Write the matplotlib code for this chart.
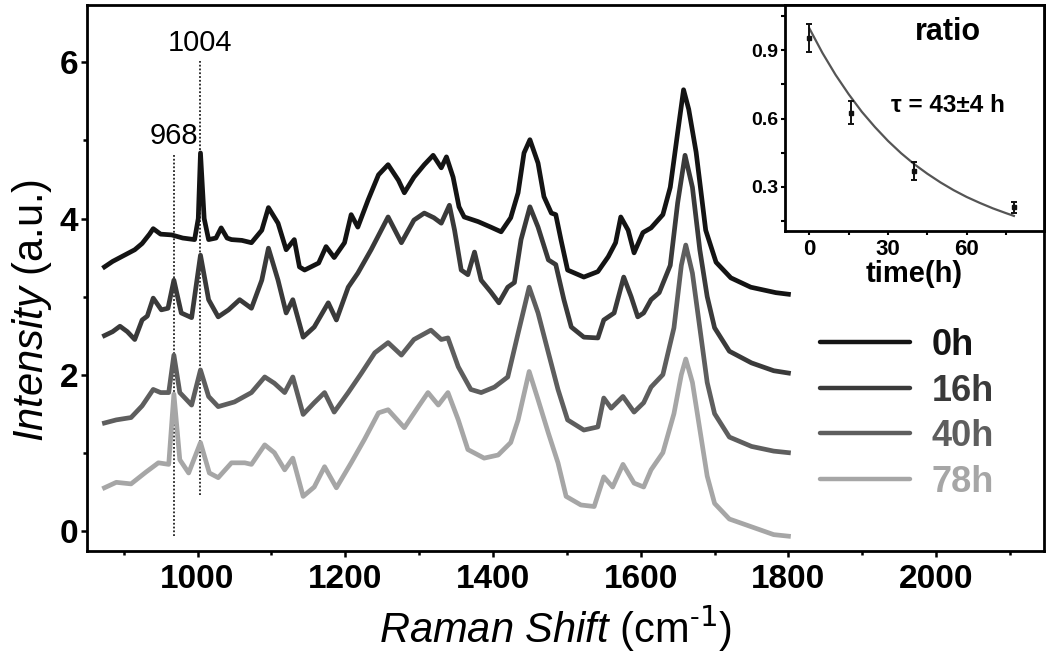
import matplotlib
matplotlib.use("Agg")
import matplotlib.pyplot as plt
from matplotlib.ticker import MultipleLocator

plt.rcParams["font.family"] = ["Liberation Sans", "DejaVu Sans"]
plt.rcParams["mathtext.fontset"] = "custom"
plt.rcParams["mathtext.rm"] = "Liberation Sans"
plt.rcParams["mathtext.it"] = "Liberation Sans:italic"
plt.rcParams["mathtext.bf"] = "Liberation Sans:bold"

# ---- spectra (Raman shift in cm-1, intensity in a.u., offset already applied)
wn_0h = [874, 885, 895, 905, 915, 925, 935, 940, 950, 965, 980, 996, 1001, 1004, 1009,
         1015, 1025, 1032, 1040, 1046, 1060, 1073, 1087, 1096, 1109, 1120, 1131, 1138,
         1145, 1164, 1174, 1185, 1199, 1208, 1217, 1231, 1245, 1258, 1272, 1280, 1293,
         1307, 1319, 1330, 1337, 1346, 1354, 1361, 1380, 1397, 1411, 1424, 1434, 1442,
         1450, 1461, 1469, 1479, 1485, 1492, 1501, 1523, 1542, 1556, 1566, 1573, 1583,
         1591, 1603, 1614, 1630, 1640, 1650, 1658, 1665, 1675, 1688, 1702, 1722, 1749,
         1783, 1800]
int_0h = [3.38, 3.45, 3.50, 3.55, 3.60, 3.68, 3.80, 3.87, 3.80, 3.79, 3.75, 3.73, 4.00, 4.84, 4.00,
          3.73, 3.75, 3.88, 3.75, 3.73, 3.72, 3.69, 3.85, 4.14, 3.94, 3.60, 3.73, 3.38,
          3.34, 3.43, 3.64, 3.50, 3.69, 4.05, 3.89, 4.24, 4.56, 4.69, 4.49, 4.33, 4.53,
          4.69, 4.81, 4.65, 4.79, 4.53, 4.15, 4.02, 3.96, 3.89, 3.83, 4.01, 4.33, 4.84,
          5.01, 4.71, 4.28, 4.07, 4.05, 3.73, 3.34, 3.25, 3.32, 3.51, 3.69, 4.02, 3.85,
          3.56, 3.82, 3.88, 4.05, 4.40, 5.10, 5.65, 5.40, 4.85, 3.85, 3.44, 3.24, 3.12,
          3.05, 3.03]

wn_16h = [874, 885, 895, 905, 915, 925, 932, 940, 951, 960, 968, 978, 992, 1004, 1015,
          1028, 1042, 1057, 1073, 1087, 1096, 1109, 1120, 1129, 1143, 1158, 1177, 1188,
          1204, 1217, 1235, 1258, 1276, 1293, 1307, 1320, 1330, 1341, 1348, 1357, 1366,
          1375, 1384, 1397, 1408, 1420, 1429, 1438, 1450, 1461, 1475, 1485, 1496, 1506,
          1523, 1542, 1550, 1564, 1577, 1587, 1596, 1604, 1614, 1625, 1640, 1650, 1660,
          1670, 1680, 1690, 1700, 1720, 1750, 1780, 1800]
int_16h = [2.50, 2.55, 2.62, 2.55, 2.45, 2.70, 2.75, 2.98, 2.83, 2.85, 3.21, 2.79, 2.73, 3.53, 2.96,
           2.74, 2.83, 2.96, 2.85, 3.21, 3.62, 3.21, 2.79, 2.96, 2.48, 2.61, 2.92, 2.70,
           3.12, 3.30, 3.60, 4.02, 3.69, 3.98, 4.07, 4.01, 3.94, 4.17, 3.85, 3.34, 3.28,
           3.57, 3.21, 3.06, 2.92, 3.12, 3.18, 3.73, 4.15, 3.89, 3.47, 3.41, 2.96, 2.61,
           2.48, 2.47, 2.70, 2.79, 3.25, 3.00, 2.74, 2.79, 2.96, 3.05, 3.40, 4.20, 4.81,
           4.40, 3.60, 3.00, 2.60, 2.30, 2.15, 2.05, 2.02]

wn_40h = [874, 890, 910, 925, 940, 950, 961, 968, 976, 992, 1004, 1015, 1028, 1050, 1073,
          1091, 1104, 1118, 1129, 1143, 1158, 1172, 1185, 1204, 1222, 1240, 1258, 1276,
          1293, 1316, 1330, 1339, 1353, 1370, 1384, 1402, 1420, 1434, 1449, 1461, 1475,
          1488, 1501, 1523, 1542, 1550, 1560, 1576, 1591, 1604, 1614, 1630, 1645, 1655,
          1661, 1670, 1680, 1690, 1700, 1720, 1750, 1780, 1800]
int_40h = [1.38, 1.42, 1.45, 1.60, 1.81, 1.77, 1.77, 2.25, 1.77, 1.61, 2.06, 1.72, 1.59, 1.65, 1.77,
           1.97, 1.89, 1.77, 1.97, 1.49, 1.64, 1.77, 1.52, 1.77, 2.02, 2.28, 2.41, 2.25,
           2.45, 2.57, 2.45, 2.47, 2.10, 1.81, 1.77, 1.84, 1.97, 2.53, 3.12, 2.79, 2.28,
           1.81, 1.42, 1.29, 1.33, 1.70, 1.57, 1.72, 1.52, 1.64, 1.84, 2.00, 2.60, 3.40,
           3.66, 3.30, 2.60, 1.90, 1.50, 1.20, 1.08, 1.02, 1.00]

wn_78h = [874, 890, 910, 930, 947, 961, 968, 976, 988, 1004, 1016, 1028, 1046, 1064, 1073,
          1091, 1104, 1118, 1129, 1143, 1158, 1172, 1188, 1208, 1226, 1245, 1258, 1280,
          1299, 1312, 1326, 1339, 1353, 1366, 1388, 1407, 1424, 1434, 1449, 1461, 1475,
          1488, 1499, 1519, 1537, 1550, 1562, 1576, 1591, 1604, 1614, 1630, 1645, 1655,
          1661, 1670, 1680, 1690, 1700, 1720, 1750, 1780, 1800]
int_78h = [0.55, 0.62, 0.60, 0.75, 0.87, 0.85, 1.75, 0.91, 0.74, 1.13, 0.74, 0.68, 0.87, 0.87, 0.85,
           1.10, 1.00, 0.78, 0.93, 0.44, 0.56, 0.82, 0.55, 0.87, 1.17, 1.51, 1.55, 1.32,
           1.59, 1.77, 1.61, 1.77, 1.42, 1.04, 0.93, 0.97, 1.13, 1.42, 2.04, 1.68, 1.25,
           0.87, 0.44, 0.33, 0.31, 0.69, 0.56, 0.85, 0.61, 0.56, 0.78, 1.00, 1.50, 2.00,
           2.20, 1.90, 1.30, 0.70, 0.35, 0.15, 0.05, -0.05, -0.07]

series_labels = ["0h", "16h", "40h", "78h"]
series_colors = ["#141414", "#3a3a3a", "#5e5e5e", "#a6a6a6"]

# marker lines (position, bottom, top)
marker_pos = [968, 1004]
marker_bottom = [-0.07, 0.46]
marker_top = [4.83, 6.02]

# ---- inset: ratio vs time
time_h = [0, 16, 40, 78]
ratio = [0.953, 0.626, 0.37, 0.21]
ratio_err = [0.061, 0.05, 0.04, 0.024]
fit_t = [0, 5, 10, 15, 20, 25, 30, 35, 40, 45, 50, 55, 60, 65, 70, 75, 78]
fit_r = [0.996, 0.888, 0.792, 0.707, 0.630, 0.563, 0.502, 0.448, 0.400, 0.358,
         0.320, 0.286, 0.256, 0.230, 0.206, 0.185, 0.173]

fig = plt.figure(figsize=(10.5, 6.58), dpi=100)
ax = fig.add_axes([0.0826, 0.1626, 0.9117, 0.8303])

spectra = [(wn_0h, int_0h), (wn_16h, int_16h), (wn_40h, int_40h), (wn_78h, int_78h)]
for (wn, inten), lab, col in zip(spectra, series_labels, series_colors):
    ax.plot(wn, inten, color=col, lw=3.4, label=lab, solid_joinstyle="round")

for pos, lo, hi in zip(marker_pos, marker_bottom, marker_top):
    ax.vlines(pos, lo, hi, colors="#222222", linestyles=(0, (1, 1.1)), lw=1.3, zorder=1)
    ax.text(pos, hi + 0.05, str(pos), ha="center", va="bottom", fontsize=21)

ax.set_xlim(850, 2146)
ax.set_ylim(-0.26, 6.74)
ax.xaxis.set_major_locator(MultipleLocator(200))
ax.xaxis.set_minor_locator(MultipleLocator(100))
ax.yaxis.set_major_locator(MultipleLocator(2))
ax.yaxis.set_minor_locator(MultipleLocator(1))
ax.tick_params(which="both", direction="out", width=1.8)
ax.tick_params(which="major", length=4)
ax.tick_params(which="minor", length=3)
ax.tick_params(axis="x", pad=5)
ax.tick_params(axis="y", pad=2)
for lbl in ax.get_xticklabels() + ax.get_yticklabels():
    lbl.set_fontsize(24)
    lbl.set_fontweight("bold")
for sp in ax.spines.values():
    sp.set_linewidth(2.0)

ax.set_xlabel("$\\mathit{Raman\\ Shift}$ (cm$^{\u2010\\mathsf{1}}$)", fontsize=30)
ax.xaxis.set_label_coords(0.49, -0.095)
ax.set_ylabel(r"$\mathit{Intensity}$ (a.u.)", fontsize=30)
ax.yaxis.set_label_coords(-0.034, 0.44)

leg = ax.legend(loc="upper left", bbox_to_anchor=(0.766, 0.408), frameon=False,
                fontsize=26, handlelength=2.5, handletextpad=0.6, labelspacing=0.29,
                borderaxespad=0, borderpad=0, labelcolor="linecolor")
for t in leg.get_texts():
    t.set_fontweight("bold")
for h in leg.get_lines():
    h.set_linewidth(3.2)
    h.set_solid_capstyle("round")

# ---- inset
axi = fig.add_axes([0.7476, 0.6494, 0.2467, 0.3435])
axi.plot(fit_t, fit_r, color="#555555", lw=1.6)
axi.errorbar(time_h, ratio, yerr=ratio_err, fmt="s", color="#111111", ms=3.5,
             capsize=2.5, elinewidth=1.4, capthick=1.4)
axi.set_xlim(-9.3, 89.5)
axi.set_ylim(0.108, 1.1)
axi.xaxis.set_major_locator(MultipleLocator(30))
axi.xaxis.set_minor_locator(MultipleLocator(15))
axi.yaxis.set_major_locator(MultipleLocator(0.3))
axi.yaxis.set_minor_locator(MultipleLocator(0.15))
axi.tick_params(which="both", direction="out", width=1.5, length=3)
axi.tick_params(axis="x", pad=3)
axi.tick_params(axis="y", pad=2)
for lbl in axi.get_xticklabels() + axi.get_yticklabels():
    lbl.set_fontsize(16)
    lbl.set_fontweight("bold")
axi.set_yticks([0.3, 0.6, 0.9])
axi.set_yticklabels(["0.3", "0.6", "0.9"], fontsize=14, fontweight="bold")
for sp in axi.spines.values():
    sp.set_linewidth(2.0)
axi.set_xlabel("time(h)", fontsize=21, fontweight="bold", labelpad=0)
axi.text(0.63, 0.88, "ratio", transform=axi.transAxes, ha="center", va="center",
         fontsize=22, fontweight="bold")
axi.text(0.63, 0.555, "\u03c4 = 43\u00b14 h", transform=axi.transAxes, ha="center",
         va="center", fontsize=17.5, fontweight="bold")

fig.savefig("out.png", dpi=100)
